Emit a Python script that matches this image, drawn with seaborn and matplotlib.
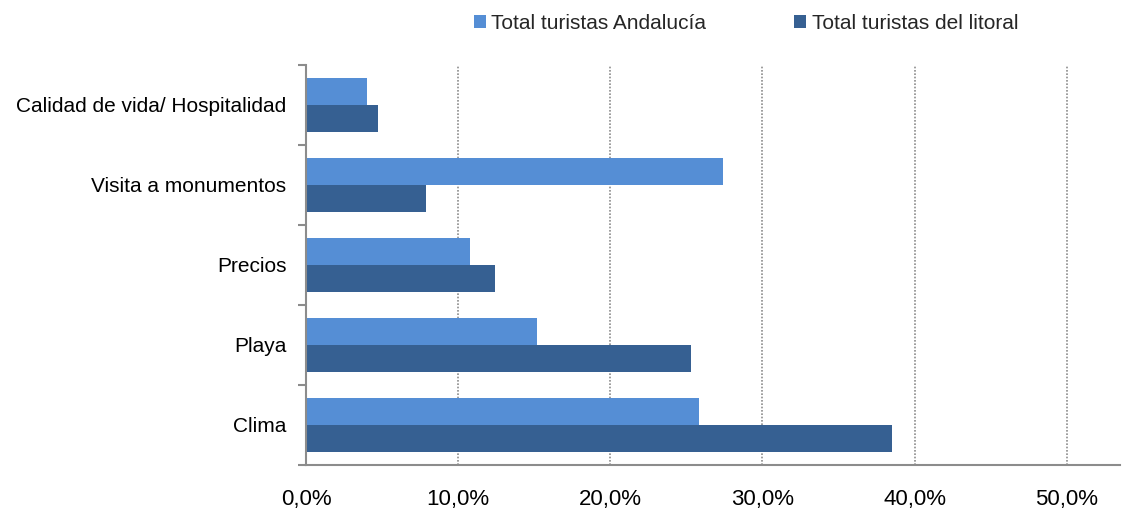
import matplotlib
matplotlib.use('Agg')
import matplotlib.pyplot as plt
from matplotlib.ticker import FuncFormatter, FixedLocator
import seaborn as sns
import pandas as pd

categorias = ['Calidad de vida/ Hospitalidad', 'Visita a monumentos', 'Precios', 'Playa', 'Clima']
andalucia = [4.0, 27.4, 10.8, 15.2, 25.8]
litoral = [4.7, 7.9, 12.4, 25.3, 38.5]
series = ['Total turistas Andalucía', 'Total turistas del litoral']

df = pd.DataFrame({
    'categoria': categorias * 2,
    'valor': andalucia + litoral,
    'serie': [series[0]] * 5 + [series[1]] * 5,
})

sns.set_style('white')
plt.rcParams['font.family'] = ['Liberation Sans', 'DejaVu Sans']

fig = plt.figure(figsize=(11.37, 5.08), dpi=100)
ax = fig.add_axes([306 / 1137, 43 / 508, (1120 - 306) / 1137, (465 - 65) / 508])

sns.barplot(data=df, x='valor', y='categoria', hue='serie', order=categorias,
            hue_order=series, palette=['#558ED5', '#366092'], width=0.68,
            saturation=1, linewidth=0, ax=ax, legend=True)

ax.set_xlim(0, 53.5)
ax.set_xticks([0, 10, 20, 30, 40, 50])
ax.xaxis.set_major_formatter(FuncFormatter(lambda v, p: f'{v:.1f}%'.replace('.', ',')))
ax.grid(axis='x', color='#8c8c8c', linestyle=(0, (1, 1)), linewidth=1.2)
ax.set_axisbelow(True)

for s in ['top', 'right']:
    ax.spines[s].set_visible(False)
for s in ['left', 'bottom']:
    ax.spines[s].set_color('#8c8c8c')
    ax.spines[s].set_linewidth(1.5)

ax.tick_params(axis='x', colors='#8c8c8c', length=6, width=1.5, direction='out',
               labelsize=16, labelcolor='black', pad=11)
ax.tick_params(axis='y', length=0, labelsize=15, labelcolor='black', pad=14)
ax.yaxis.set_minor_locator(FixedLocator([-0.5, 0.5, 1.5, 2.5, 3.5, 4.5]))
ax.tick_params(axis='y', which='minor', length=6, width=1.5, color='#8c8c8c', left=True)
ax.set_xlabel('')
ax.set_ylabel('')

handles, labels = ax.get_legend_handles_labels()
ax.legend(handles, labels, loc='upper left', bbox_to_anchor=(455 / 1137, 1.01),
          bbox_transform=fig.transFigure, ncol=2, frameon=False, fontsize=15,
          handlelength=0.6, handleheight=0.6, handletextpad=0.25, columnspacing=4.2)

fig.savefig('out.png', dpi=100)
